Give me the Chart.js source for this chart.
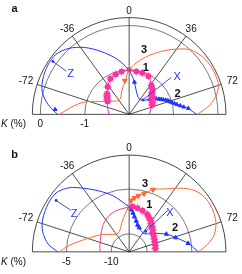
<!DOCTYPE html>
<html>
<head>
<meta charset="utf-8">
<script src="https://cdn.jsdelivr.net/npm/chart.js@4.4.1/dist/chart.umd.min.js"></script>
<style>
html, body { margin: 0; padding: 0; background: #fff; }
#wrap { position: relative; width: 242px; height: 274px; }
canvas { position: absolute; left: 0; }
</style>
</head>
<body>
<div id="wrap">
  <canvas id="chartA" width="242" height="137" style="top:0"></canvas>
  <canvas id="chartB" width="242" height="137" style="top:137px"></canvas>
</div>
<script>
// angle ticks (degrees), shared by both panels
const angleTicks = [-72, -36, 0, 36, 72];

// ---- panel a : K (%) from -2 to 0.18 ----
const aRings = [-1, 0];
const aRingLabels = ["-1", "0"];

const aZAng = [-90, -86.6, -81.4, -74.8, -67.1, -57.9, -49.7, -41.4, -32.7, -23.5, -12.1, 0];
const aZK   = [-0.39, -0.28, -0.12, 0.03, 0.11, 0.16, 0.16, 0.05, -0.15, -0.40, -0.68, -0.96];

const aXAng = [0, 5.5, 9, 15.3, 28.6, 43.2, 54.8, 62, 68, 73.5, 79, 83.4, 87, 90];
const aXK   = [-0.96, -1.14, -1.24, -1.41, -1.56, -1.56, -1.33, -1.23, -1.13, -1.01, -0.86, -0.69, -0.58, -0.48];

const aOrAng = [-90, -84.2, -77.9, -71.9, -64.6, -53.7, -37.3, -26.1, -17.6, -5.3, 0, 10.3, 20.2, 28.4, 35.5, 42.5, 50, 57, 64, 71.4, 77.7, 83.4, 90];
const aOrK   = [-0.43, -0.64, -0.83, -1.03, -1.30, -1.48, -1.60, -1.57, -1.44, -1.18, -0.96, -0.73, -0.51, -0.31, -0.13, 0.04, 0.12, 0.15, 0.15, 0.12, 0.0, -0.18, -0.46];

const aMgAng = [-90, -75, -65, -57, -50, -45, -37, -27, -18, -9.6, 0, 9, 17, 26, 36.5, 45, 52, 59, 68, 78, 90];
const aMgK   = [-1.55, -1.50, -1.46, -1.42, -1.36, -1.31, -1.20, -1.07, -1.02, -0.99, -0.96, -0.99, -0.99, -1.01, -1.16, -1.27, -1.34, -1.38, -1.45, -1.51, -1.54];

// measured points
const aMkAng = [-58, -55, -52, -49, -46, -37, -27, -18, -9.6, 9, 17, 26, 36.5, 41, 45, 48, 51, 54, 57, 60, 63, 67];
const aMkK   = [-1.43, -1.40, -1.37, -1.34, -1.31, -1.20, -1.07, -1.02, -0.99, -0.99, -0.99, -1.01, -1.16, -1.21, -1.27, -1.31, -1.34, -1.36, -1.38, -1.39, -1.41, -1.44];
const aBlMkAng = [-86, 9, 53, 56, 59, 62, 64, 66, 68, 70, 72, 74, 76, 78, 80, 82, 84];
const aBlMkK   = [-0.33, -1.24, -1.42, -1.34, -1.29, -1.24, -1.20, -1.16, -1.11, -1.07, -1.04, -1.00, -0.95, -0.90, -0.83, -0.76, -0.66];
const aOrMkAng = [-7];
const aOrMkK   = [-1.21];
const aTopAng = [0];
const aTopK   = [-0.96];

// ---- panel b : K (%) from -12 to -1.2 ----
const bRings = [-10, -5];
const bRingLabels = ["-10", "-5"];

const bZAng = [-90, -84.3, -76.4, -68.7, -58.5, -50.2, -42.3, -34, -24.4, -15, 0];
const bZK   = [-4.03, -2.92, -2.07, -1.65, -1.40, -1.39, -2.01, -3.17, -4.35, -5.34, -6.81];

const bXAng = [0, 2.7, 8.3, 17, 27.7, 38.3, 52.2, 63.7, 72.5, 81.5, 90];
const bXK   = [-6.81, -7.13, -7.91, -8.77, -9.20, -9.33, -8.55, -7.37, -6.55, -5.35, -4.28];

const bOrAng = [-90, -83.8, -73.7, -63.5, -55.9, -37.6, -28.6, -21.7, -14.4, -6.3, 0, 2.2, 5.4, 13.9, 20.3, 28.7, 39.8, 47.3, 54.8, 62.6, 70.6, 78.2, 84.1, 90];
const bOrK   = [-4.21, -5.24, -6.86, -7.88, -8.41, -9.45, -9.51, -9.25, -8.63, -7.64, -6.81, -6.06, -5.75, -5.08, -4.34, -3.73, -2.46, -1.73, -1.45, -1.50, -1.74, -2.30, -3.17, -4.28];

const bMgAng = [-90, -76.8, -59.8, -45.7, -31.6, -18.3, 0, 4.5, 10.6, 17.3, 24.9, 33.2, 41.3, 50.5, 62.1, 75.2, 90];
const bMgK   = [-8.74, -8.65, -8.35, -7.84, -7.34, -7.06, -6.81, -6.76, -6.87, -7.02, -7.22, -7.68, -8.14, -8.56, -8.83, -8.99, -9.09];

const bMkAng = [4.5, 10.6, 17.3, 24.9, 29, 33.2, 37, 41.3, 46, 50.5, 56, 62.1, 68, 75.2, 82];
const bMkK   = [-6.76, -6.87, -7.02, -7.22, -7.45, -7.68, -7.90, -8.14, -8.35, -8.56, -8.70, -8.83, -8.92, -8.99, -9.05];
const bBlMkAng = [2.7, 5.5, 8.3, 12.5, 17, 22, 63.7, 72.5, 81.5];
const bBlMkK   = [-7.13, -7.50, -7.91, -8.35, -8.77, -9.00, -7.37, -6.55, -5.35];
const bOrMkAng = [2.2, 5.4, 9, 13.9, 20.3];
const bOrMkK   = [-6.06, -5.75, -5.45, -5.08, -4.34];
const bTopAng = [0];
const bTopK   = [-6.81];

const BLUE = "#2233ff";
const ORANGE = "#ff6633";
const PINK = "#ff1a8c";

// (angle, K) -> x/y in units of the outer ring radius
function polar(angs, ks, kMin, kMax) {
    return angs.map((a, i) => {
        const r = (ks[i] - kMin) / (kMax - kMin);
        const t = a * Math.PI / 180;
        return { x: r * Math.sin(t), y: r * Math.cos(t) };
    });
}

function lineSet(data, color, width) {
    return { data, showLine: true, borderColor: color, borderWidth: width || 1, pointRadius: 0, tension: 0.3, fill: false };
}
function markSet(data, color, style, radius, rot) {
    return { data, showLine: false, pointStyle: style, pointRadius: radius, rotation: rot || 0,
             backgroundColor: color, borderColor: color, borderWidth: 1 };
}

// grid, spokes, ring labels and text labels drawn with the chart's own scales
const polarGrid = {
    id: "polarGrid",
    beforeDatasetsDraw(chart, args, opts) {
        const ctx = chart.ctx, xs = chart.scales.x, ys = chart.scales.y;
        const cx = xs.getPixelForValue(0), cy = ys.getPixelForValue(0);
        const R = xs.getPixelForValue(1) - cx;
        const rOf = k => (k - opts.kMin) / (opts.kMax - opts.kMin) * R;
        ctx.save();
        ctx.strokeStyle = "#333";
        ctx.lineWidth = 0.9;
        ctx.beginPath();
        ctx.arc(cx, cy, R, Math.PI, 2 * Math.PI);
        ctx.stroke();
        ctx.strokeStyle = "#555";
        ctx.lineWidth = 0.8;
        opts.rings.forEach(k => {
            ctx.beginPath();
            ctx.arc(cx, cy, rOf(k), Math.PI, 2 * Math.PI);
            ctx.stroke();
        });
        ctx.strokeStyle = "#222";
        ctx.beginPath();
        ctx.moveTo(cx - R, cy); ctx.lineTo(cx + R, cy);
        angleTicks.forEach(a => {
            const t = a * Math.PI / 180;
            ctx.moveTo(cx, cy);
            ctx.lineTo(cx + R * Math.sin(t), cy - R * Math.cos(t));
        });
        ctx.stroke();
        ctx.restore();
    },
    afterDatasetsDraw(chart, args, opts) {
        const ctx = chart.ctx, xs = chart.scales.x, ys = chart.scales.y;
        const cx = xs.getPixelForValue(0), cy = ys.getPixelForValue(0);
        const R = xs.getPixelForValue(1) - cx;
        const rOf = k => (k - opts.kMin) / (opts.kMax - opts.kMin) * R;
        ctx.save();
        ctx.fillStyle = "#111";
        ctx.font = "10px 'Liberation Sans', Arial, sans-serif";
        ctx.textAlign = "center";
        ctx.textBaseline = "middle";
        angleTicks.forEach(a => {
            const t = a * Math.PI / 180;
            const rr = R * (a === 0 ? 1.07 : Math.abs(a) === 36 ? 1.09 : 1.12);
            ctx.fillText(String(a), cx + rr * Math.sin(t), cy - rr * Math.cos(t));
        });
        ctx.textBaseline = "alphabetic";
        opts.rings.forEach((k, i) => {
            ctx.fillText(opts.ringLabels[i], cx - rOf(k), cy + 13);
        });
        ctx.textAlign = "left";
        ctx.font = "italic 10px 'Liberation Sans', Arial, sans-serif";
        ctx.fillText("K", 1, cy + 13);
        const kw = ctx.measureText("K").width;
        ctx.font = "10px 'Liberation Sans', Arial, sans-serif";
        ctx.fillText(" (%)", 1 + kw, cy + 13);

        // leaders
        opts.leaders.forEach(l => {
            const r = rOf(l.k), t = l.ang * Math.PI / 180;
            const ex = cx + r * Math.sin(t), ey = cy - r * Math.cos(t);
            ctx.strokeStyle = BLUE;
            ctx.fillStyle = BLUE;
            ctx.lineWidth = 0.9;
            ctx.beginPath();
            ctx.moveTo(cx + l.fx * R, cy - l.fy * R);
            ctx.lineTo(ex, ey);
            ctx.stroke();
            ctx.beginPath();
            ctx.arc(ex, ey, 1.4, 0, 2 * Math.PI);
            ctx.fill();
        });
        // texts
        ctx.textAlign = "center";
        ctx.textBaseline = "middle";
        opts.texts.forEach(s => {
            ctx.font = (s.bold ? "bold " : "") + s.size + "px 'Liberation Sans', Arial, sans-serif";
            ctx.fillStyle = s.color || "#111";
            ctx.fillText(s.t, cx + s.x * R, cy - s.y * R);
        });
        ctx.restore();
    }
};

function makeChart(id, kMin, kMax, yTop, datasets, extra) {
    return new Chart(document.getElementById(id), {
        type: "scatter",
        data: { datasets },
        options: {
            responsive: false,
            animation: false,
            layout: { padding: 0 },
            scales: {
                x: { type: "linear", display: false, min: -129.5 / 101, max: 112.5 / 101 },
                y: { type: "linear", display: false, min: -(137 - yTop) / 101, max: yTop / 101 }
            },
            plugins: {
                legend: { display: false },
                tooltip: { enabled: false },
                polarGrid: Object.assign({ kMin, kMax }, extra)
            }
        },
        plugins: [polarGrid]
    });
}

// panel a
const aMin = -2, aMax = 0.18;
makeChart("chartA", aMin, aMax, 118, [
    markSet(polar(aMkAng, aMkK, aMin, aMax), "rgba(255,60,160,0.8)", "star", 4),
    lineSet(polar(aMgAng, aMgK, aMin, aMax), "#e31ee8", 1),
    lineSet(polar(aZAng, aZK, aMin, aMax), BLUE, 1),
    lineSet(polar(aXAng, aXK, aMin, aMax), BLUE, 1),
    lineSet(polar(aOrAng, aOrK, aMin, aMax), ORANGE, 1),
    markSet(polar(aMkAng, aMkK, aMin, aMax), PINK, "circle", 2.4),
    markSet(polar(aBlMkAng, aBlMkK, aMin, aMax), BLUE, "triangle", 2.2),
    markSet(polar(aOrMkAng, aOrMkK, aMin, aMax), ORANGE, "triangle", 2.8, 180),
    markSet(polar(aTopAng, aTopK, aMin, aMax), ORANGE, "rect", 2.8)
], {
    rings: aRings,
    ringLabels: aRingLabels,
    leaders: [
        { fx: -65.5 / 101, fy: 45 / 101, ang: -55.2, k: 0.09 },
        { fx: 44 / 101, fy: 38.7 / 101, ang: 43.5, k: -1.55 }
    ],
    texts: [
        { t: "a", x: -119.5 / 101, y: 109.5 / 101, size: 11, bold: true },
        { t: "Z", x: -61 / 101, y: 42 / 101, size: 11, color: BLUE },
        { t: "X", x: 50 / 101, y: 39 / 101, size: 11, color: BLUE },
        { t: "1", x: 17.5 / 101, y: 48.5 / 101, size: 11, bold: true },
        { t: "2", x: 50.5 / 101, y: 21 / 101, size: 11, bold: true },
        { t: "3", x: 15.5 / 101, y: 67 / 101, size: 11, bold: true }
    ]
});

// panel b
const bMin = -12, bMax = -1.2;
makeChart("chartB", bMin, bMax, 118.5, [
    markSet(polar(bMkAng, bMkK, bMin, bMax), "rgba(255,60,160,0.8)", "star", 4),
    lineSet(polar(bMgAng, bMgK, bMin, bMax), "#f03a9c", 1),
    lineSet(polar(bZAng, bZK, bMin, bMax), BLUE, 1),
    lineSet(polar(bXAng, bXK, bMin, bMax), BLUE, 1),
    lineSet(polar(bOrAng, bOrK, bMin, bMax), ORANGE, 1),
    markSet(polar(bMkAng, bMkK, bMin, bMax), PINK, "circle", 2.4),
    markSet(polar(bBlMkAng, bBlMkK, bMin, bMax), BLUE, "triangle", 2.4),
    markSet(polar(bOrMkAng, bOrMkK, bMin, bMax), ORANGE, "triangle", 2.8, 180),
    markSet(polar(bTopAng, bTopK, bMin, bMax), "#e0401a", "crossRot", 3.5)
], {
    rings: bRings,
    ringLabels: bRingLabels,
    leaders: [
        { fx: -61 / 101, fy: 43.5 / 101, ang: -54.9, k: -2.04 },
        { fx: 40.5 / 101, fy: 43.5 / 101, ang: 39, k: -9.08 }
    ],
    texts: [
        { t: "b", x: -119.5 / 101, y: 101 / 101, size: 11, bold: true },
        { t: "Z", x: -57.5 / 101, y: 39.5 / 101, size: 11, color: BLUE },
        { t: "X", x: 42.5 / 101, y: 41 / 101, size: 11, color: BLUE },
        { t: "1", x: 21 / 101, y: 49 / 101, size: 11, bold: true },
        { t: "2", x: 48 / 101, y: 25 / 101, size: 11, bold: true },
        { t: "3", x: 16.5 / 101, y: 70.5 / 101, size: 11, bold: true }
    ]
});
</script>
</body>
</html>
